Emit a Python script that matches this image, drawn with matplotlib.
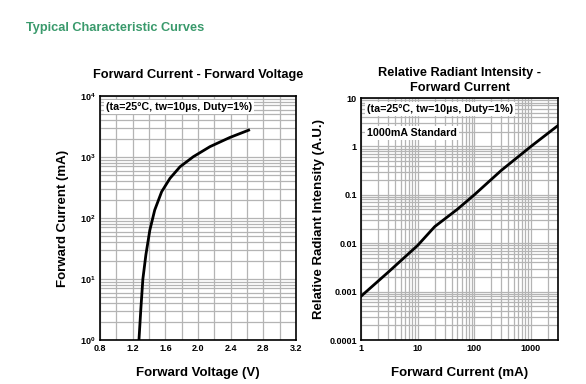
import matplotlib.pyplot as plt
import matplotlib.ticker as mticker
import numpy as np

plt.rcParams['font.family'] = ['Liberation Sans', 'DejaVu Sans']

# forward current vs forward voltage
vf = [1.277, 1.30, 1.325, 1.362, 1.41, 1.47, 1.555, 1.657, 1.78, 1.943, 2.147, 2.39, 2.62]
if_ma = [1, 3.2, 10, 25, 63, 135, 270, 447, 692, 1012, 1479, 2089, 2754]

# relative radiant intensity vs forward current
cur = [1, 3, 10, 20, 50, 100, 300, 1000, 3000]
rel = [0.0008, 0.0025, 0.009, 0.022, 0.05, 0.1, 0.32, 1.0, 2.7]

grid_c = '#b4b4b4'
note = '(ta=25\u00b0C, tw=10\u00b5s, Duty=1%)'
box = dict(facecolor='white', edgecolor='none', pad=1.5)

fig = plt.figure(figsize=(5.86, 3.84), dpi=100)
fig.text(26 / 586, 1 - 28 / 384, 'Typical Characteristic Curves', color='#3a9a6c',
         fontsize=9.2, fontweight='bold', va='center')

# left chart
ax1 = fig.add_axes([100 / 586, 44 / 384, 196 / 586, 244 / 384])
ax1.set_yscale('log')
ax1.set_xlim(0.8, 3.2)
ax1.set_ylim(1, 1e4)
ax1.xaxis.set_major_locator(mticker.MultipleLocator(0.4))
ax1.xaxis.set_minor_locator(mticker.MultipleLocator(0.2))
ax1.yaxis.set_minor_locator(mticker.LogLocator(base=10, subs=np.arange(2, 10)))
ax1.yaxis.set_minor_formatter(mticker.NullFormatter())
ax1.xaxis.set_major_formatter(mticker.FormatStrFormatter('%.1f'))
ax1.grid(which='both', color=grid_c, lw=0.9)
ax1.plot(vf, if_ma, color='black', lw=2, solid_joinstyle='round')
ax1.text(0.03, 0.955, note, transform=ax1.transAxes, fontsize=7.7, fontweight='bold',
         va='center', ha='left', bbox=box)
ax1.set_title('Forward Current - Forward Voltage', fontsize=9.2, fontweight='bold', pad=13)
ax1.set_xlabel('Forward Voltage (V)', fontsize=9.5, fontweight='bold', labelpad=10)
ax1.set_ylabel('Forward Current (mA)', fontsize=9.5, fontweight='bold', labelpad=8)

# right chart
ax2 = fig.add_axes([361 / 586, 44 / 384, 197 / 586, 242 / 384])
ax2.set_xscale('log')
ax2.set_yscale('log')
ax2.set_xlim(1, 3000)
ax2.set_ylim(1e-4, 10)
for a in (ax2.xaxis, ax2.yaxis):
    a.set_minor_locator(mticker.LogLocator(base=10, subs=np.arange(2, 10)))
    a.set_minor_formatter(mticker.NullFormatter())
ax2.xaxis.set_major_formatter(mticker.FuncFormatter(lambda v, p: f'{v:g}'))
ax2.yaxis.set_major_formatter(mticker.FuncFormatter(lambda v, p: f'{v:.4f}'.rstrip('0').rstrip('.')))
ax2.grid(which='both', color=grid_c, lw=0.9)
ax2.plot(cur, rel, color='black', lw=2, solid_joinstyle='round')
ax2.text(0.03, 0.955, note, transform=ax2.transAxes, fontsize=7.7, fontweight='bold',
         va='center', ha='left', bbox=box)
ax2.text(0.03, 0.855, '1000mA Standard', transform=ax2.transAxes, fontsize=7.7, fontweight='bold',
         va='center', ha='left', bbox=box)
ax2.set_title('Relative Radiant Intensity -\nForward Current', fontsize=9.2, fontweight='bold',
              pad=5, linespacing=1.3)
ax2.set_xlabel('Forward Current (mA)', fontsize=9.5, fontweight='bold', labelpad=10)
ax2.set_ylabel('Relative Radiant Intensity (A.U.)', fontsize=9.5, fontweight='bold', labelpad=3)

for ax in (ax1, ax2):
    ax.tick_params(which='both', length=0, labelsize=6.5, pad=3)
    for lab in ax.get_xticklabels() + ax.get_yticklabels():
        lab.set_fontweight('bold')
    for s in ax.spines.values():
        s.set_linewidth(1.2)

plt.savefig('out.png', dpi=100)
